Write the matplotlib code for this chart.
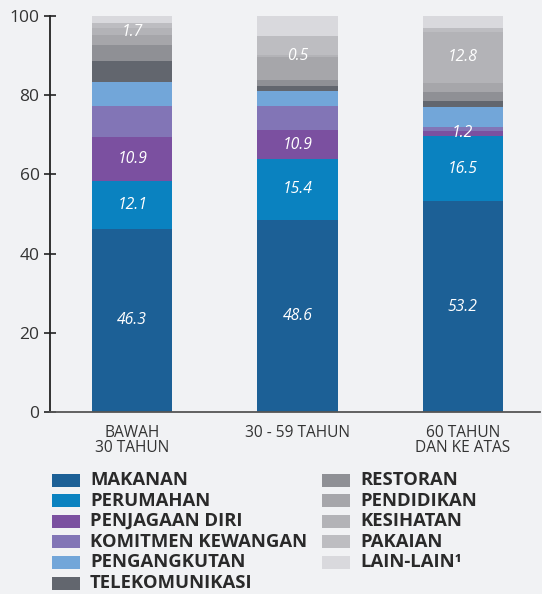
import matplotlib
matplotlib.use("Agg")
import matplotlib.pyplot as plt
from matplotlib.patches import Rectangle

plt.rcParams['font.family'] = ['Open Sans', 'DejaVu Sans']

groups = ["BAWAH\n30 TAHUN", "30 - 59 TAHUN", "60 TAHUN\nDAN KE ATAS"]
categories = ["MAKANAN", "PERUMAHAN", "PENJAGAAN DIRI", "KOMITMEN KEWANGAN",
              "PENGANGKUTAN", "TELEKOMUNIKASI", "RESTORAN", "PENDIDIKAN",
              "KESIHATAN", "PAKAIAN", "LAIN-LAIN\u00b9"]
colors = ["#1c6096", "#0a82c0", "#7b50a0", "#8275b6", "#72a6d9", "#62666e",
          "#8f9095", "#a6a6aa", "#b3b3b7", "#bdbdc1", "#d9d9dd"]

makanan = [46.3, 48.6, 53.2]
perumahan = [12.1, 15.2, 16.5]
penjagaan_diri = [10.9, 7.4, 1.2]
komitmen_kewangan = [8.0, 6.1, 1.0]
pengangkutan = [5.9, 3.7, 5.1]
telekomunikasi = [5.5, 1.4, 1.5]
restoran = [3.8, 1.3, 2.3]
pendidikan = [2.6, 6.0, 2.3]
kesihatan = [1.7, 0.5, 12.8]
pakaian = [1.4, 4.8, 1.1]
lain_lain = [1.8, 4.9, 2.9]

series = [makanan, perumahan, penjagaan_diri, komitmen_kewangan, pengangkutan,
          telekomunikasi, restoran, pendidikan, kesihatan, pakaian, lain_lain]

# printed value labels (category index -> texts)
label_texts = {
    0: ["46.3", "48.6", "53.2"],
    1: ["12.1", "15.4", "16.5"],
    2: ["10.9", "10.9", "1.2"],
    8: ["1.7", "0.5", "12.8"],
}

W, H = 542, 594
bg = "#f1f2f4"
fig = plt.figure(figsize=(W / 100, H / 100), dpi=100, facecolor=bg)
ax = fig.add_axes([50 / W, (H - 412.3) / H, 490 / W, (412.3 - 15.7) / H])
ax.set_facecolor(bg)

x = list(range(len(groups)))
bottoms = [0.0] * len(groups)
for ci, (vals, col) in enumerate(zip(series, colors)):
    ax.bar(x, vals, width=0.485, bottom=bottoms, color=col,
           edgecolor='none', zorder=2)
    if ci in label_texts:
        for xi, (b, v, t) in enumerate(zip(bottoms, vals, label_texts[ci])):
            ax.text(xi, b + v / 2, t, ha='center', va='center', color='white',
                    fontsize=11.3, style='italic', zorder=3)
    bottoms = [b + v for b, v in zip(bottoms, vals)]

ax.set_xlim(-0.497, 2.467)
ax.set_ylim(0, 100)
ax.set_yticks([0, 20, 40, 60, 80, 100])
ax.tick_params(axis='y', direction='inout', length=9, width=1.2, pad=3,
               labelsize=12.5, colors='#222222', labelcolor='#333333')
ax.set_xticks(x)
ax.set_xticklabels(groups, fontsize=11.2, color='#333333', linespacing=0.97)
ax.tick_params(axis='x', length=0, pad=9)
for s in ['top', 'right']:
    ax.spines[s].set_visible(False)
ax.spines['left'].set_color('#222222')
ax.spines['left'].set_linewidth(1.3)
ax.spines['bottom'].set_color('#555555')
ax.spines['bottom'].set_linewidth(1.3)

# legend drawn manually
row_h = 20.6
y0 = 480
col_x = [52, 322]
per_col = [6, 5]
idx = 0
for c in range(2):
    for r in range(per_col[c]):
        yc = y0 + r * row_h
        fig.patches.append(Rectangle((col_x[c] / W, (H - yc - 6.5) / H), 28 / W, 13 / H,
                                     transform=fig.transFigure, facecolor=colors[idx],
                                     edgecolor='none'))
        fig.text((col_x[c] + 38) / W, (H - yc) / H, categories[idx], ha='left',
                 va='center', fontsize=13.3, fontweight='bold', color='#2a2a2a')
        idx += 1

fig.savefig("out.png", dpi=100, facecolor=bg)
